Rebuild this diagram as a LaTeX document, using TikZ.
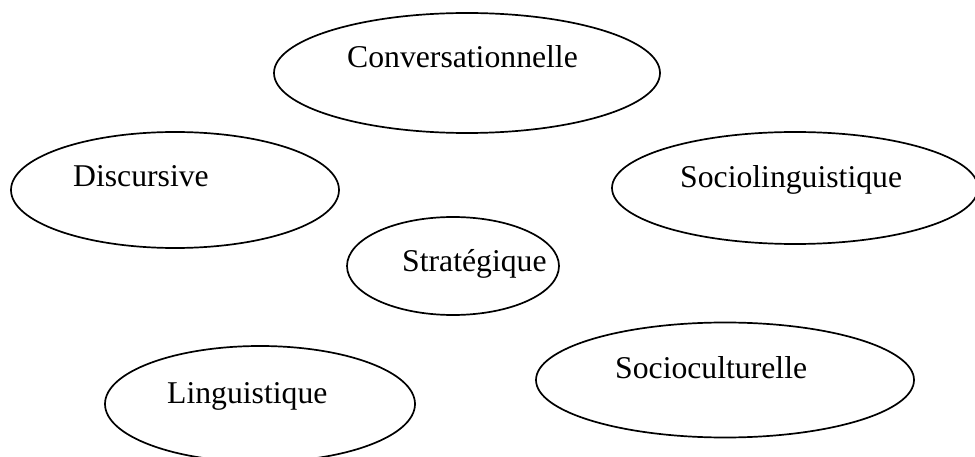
\documentclass[tikz,border=0pt]{standalone}
\usepackage{fontspec}
\setmainfont{Liberation Serif}
\usetikzlibrary{shapes.geometric}
\begin{document}
\begin{tikzpicture}[x=1pt,y=-1pt,
  oval/.style={draw=black, line width=1.7pt, ellipse, inner sep=0pt},
  lbl/.style={anchor=base west, inner sep=0pt, font=\fontsize{31.7}{38}\selectfont}]
\useasboundingbox (0,0) rectangle (975,457);
\node[oval, minimum width=386pt, minimum height=120pt] (conv) at (467,73) {};
\node[lbl] (convt) at (347,68) {Conversationnelle};
\node[oval, minimum width=328pt, minimum height=116pt] (disc) at (175,190) {};
\node[lbl] (disct) at (73,187) {Discursive};
\node[oval, minimum width=366pt, minimum height=112pt] (socl) at (795,188) {};
\node[lbl] (soclt) at (680,188) {Sociolinguistique};
\node[oval, minimum width=212pt, minimum height=98pt] (strat) at (453,266) {};
\node[lbl] (stratt) at (402,272) {Stratégique};
\node[oval, minimum width=310pt, minimum height=116pt] (ling) at (260,404) {};
\node[lbl] (lingt) at (167,403) {Linguistique};
\node[oval, minimum width=378pt, minimum height=115pt] (socc) at (725,380) {};
\node[lbl] (socct) at (615,378) {Socioculturelle};
\end{tikzpicture}
\end{document}
